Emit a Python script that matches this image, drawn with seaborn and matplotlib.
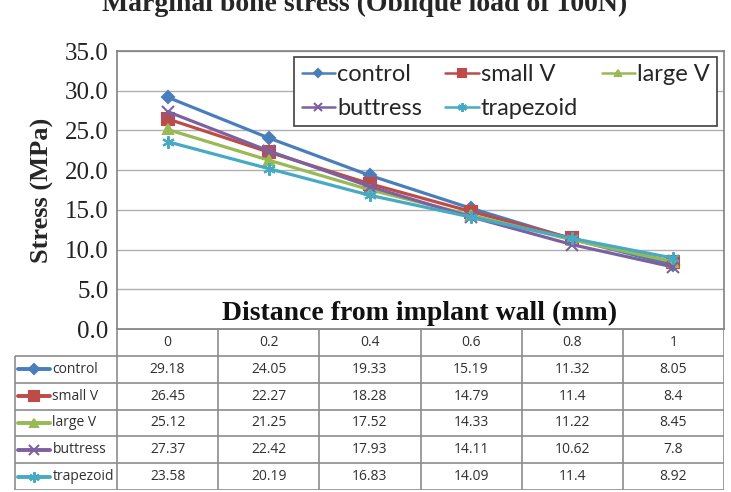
import numpy as np
import pandas as pd
import matplotlib
matplotlib.use('Agg')
import matplotlib.pyplot as plt
import seaborn as sns

distances = ['0', '0.2', '0.4', '0.6', '0.8', '1']
series_names = ['control', 'small V', 'large V', 'buttress', 'trapezoid']
control = [29.18, 24.05, 19.33, 15.19, 11.32, 8.05]
small_v = [26.45, 22.27, 18.28, 14.79, 11.4, 8.4]
large_v = [25.12, 21.25, 17.52, 14.33, 11.22, 8.45]
buttress = [27.37, 22.42, 17.93, 14.11, 10.62, 7.8]
trapezoid = [23.58, 20.19, 16.83, 14.09, 11.4, 8.92]
yticks = [0, 5, 10, 15, 20, 25, 30, 35]

values = [control, small_v, large_v, buttress, trapezoid]
colors = ['#4A7EBB', '#BE4B48', '#98B954', '#7D60A0', '#46AAC5']
markers = ['D', 's', '^', 'x', (6, 2, 0)]
msizes = [6, 8, 7, 8, 9]

sns.set_theme(style='white')
plt.rcParams['font.family'] = ['Liberation Serif', 'DejaVu Serif']

W, H = 731, 492
fig = plt.figure(figsize=(W / 100, H / 100), dpi=100)

# main plot area (pixel box 117..724 x 51..329)
ax = fig.add_axes([117 / W, 1 - 329 / H, (724 - 117) / W, (329 - 51) / H])
pos = np.arange(len(distances))
for name, vals, c, m, ms in zip(series_names, values, colors, markers, msizes):
    sns.lineplot(x=pos, y=vals, ax=ax, color=c, marker=m, markersize=ms,
                 markeredgecolor=c, markeredgewidth=1.5, linewidth=2.3,
                 label=name)

ax.set_xlim(-0.5, len(distances) - 0.5)
ax.set_ylim(0, 35)
ax.set_xticks([])
ax.set_yticks(yticks)
ax.set_yticklabels([f'{v:.1f}' for v in yticks], fontsize=18, color='#222222')
ax.tick_params(axis='y', length=0, pad=6)
ax.yaxis.grid(True, color='#b0b0b0', linewidth=1)
ax.set_xlabel('')
ax.set_ylabel('Stress (MPa)', fontsize=19, fontweight='bold', labelpad=8)
for s in ax.spines.values():
    s.set_color('#808080')
    s.set_linewidth(1.2)

# legend filled row by row like Excel: reorder for column-wise filling
handles, labels = ax.get_legend_handles_labels()
order = [0, 3, 1, 4, 2]
leg = ax.legend([handles[k] for k in order], [labels[k] for k in order], ncol=3,
                loc='upper right',
                bbox_to_anchor=(717 / W, 1 - 57 / H), bbox_transform=fig.transFigure,
                prop={'family': 'Lato', 'size': 17}, frameon=True, fancybox=False,
                edgecolor='#404040', framealpha=1, handlelength=1.4,
                handletextpad=0.1, columnspacing=1.0, borderpad=0.3,
                labelspacing=0.55, borderaxespad=0, markerscale=0.7)
leg.get_frame().set_linewidth(1.2)
for h in leg.legend_handles:
    h.set_linewidth(1.8)

fig.text(102 / W, 1 - 11 / H, 'Marginal bone stress (Oblique load of 100N)',
         ha='left', va='baseline', fontsize=20, fontweight='bold')
fig.text(420 / W, 1 - 313 / H, 'Distance from implant wall (mm)',
         ha='center', va='center', fontsize=20, fontweight='bold', color='#111111')

# data table below the axis (pixel box 14..724 x 329..490)
tab = fig.add_axes([14 / W, 1 - 490 / H, (724 - 14) / W, (490 - 329) / H])
x0 = 5.5 - (724 - 14) / ((724 - 117) / 6)
tab.set_xlim(x0, 5.5)
tab.set_ylim(6, 0)
tab.axis('off')
lc = '#8c8c8c'
tab.vlines(np.arange(-0.5, 6.0, 1.0), 0, 6, color=lc, lw=1.2)
tab.vlines([x0 + 0.01], 1, 6, color=lc, lw=1.2)
tab.hlines([0], -0.5, 5.5, color=lc, lw=1.2)
tab.hlines(np.arange(1, 7), x0 + 0.01, 5.5, color=lc, lw=1.2)

tfont = {'family': 'Open Sans', 'size': 10}
for j, d in enumerate(distances):
    tab.text(j, 0.5, d, ha='center', va='center', color='#303030', **tfont)
for i, (name, vals, c, m, ms) in enumerate(zip(series_names, values, colors, markers, msizes)):
    y = i + 1.5
    tab.plot([x0 + 0.04, x0 + 0.36], [y, y], color=c, lw=2.8)
    tab.plot([x0 + 0.2], [y], marker=m, color=c, markersize=ms * 0.85,
             markeredgecolor=c, markeredgewidth=1.5)
    tab.text(x0 + 0.38, y, name, ha='left', va='center', color='#303030', **tfont)
    for j, v in enumerate(vals):
        tab.text(j, y, f'{v:g}', ha='center', va='center', color='#303030', **tfont)

fig.savefig('out.png', dpi=100)
